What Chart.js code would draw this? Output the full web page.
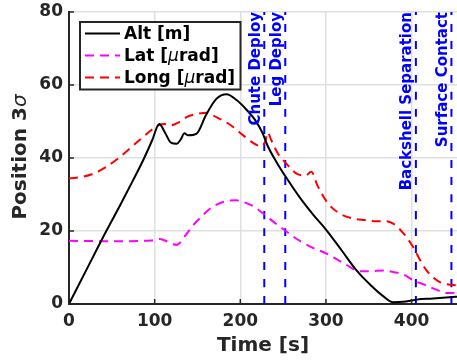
<!DOCTYPE html>
<html>
<head>
<meta charset="utf-8">
<script src="https://cdn.jsdelivr.net/npm/chart.js@4/dist/chart.umd.min.js"></script>
<style>
html,body{margin:0;padding:0;background:#fff;}
#wrap{width:457px;height:364px;}
</style>
</head>
<body>
<div id="wrap"><canvas id="c" width="457" height="364"></canvas></div>
<script>
const altPts = [[0,0],[20,9.2],[44,20.2],[60,27.2],[75,34.0],[87,39.6],[97,44.8],[105.4,49.3],[112,47],[119,44.2],[125.6,43.9],[131,45.3],[134.6,46.8],[139,46.2],[149,46.7],[160,51.8],[172,56.2],[184,57.5],[196,55.8],[207,53.3],[217,50.5],[226,46.8],[232,43.3],[242,39],[254,34.5],[270,29],[285,24.5],[300.7,20.2],[318,14.8],[335.7,9.2],[352,5.2],[366,2.3],[378.5,0.5],[390,0.6],[405.7,1.2],[425,1.5],[448,1.9],[453,2.0]];
const latPts = [[0,17.3],[50,17.2],[96.5,17.4],[106,17.8],[116,17.0],[125.6,16.2],[135,18.5],[145,21.6],[155,24],[164.5,26.1],[175,27.5],[186,28.3],[195,28.4],[203,28.0],[215,26.8],[226.7,24.8],[240,22.3],[252,20.2],[266,17.8],[283,15.6],[300.7,13.8],[320,11.3],[339.5,9.0],[352,9.0],[366.8,9.2],[380,8.7],[392,7.9],[401.8,6.5],[415,5.3],[428,4.0],[440.7,3.0],[453,3.0]];
const longPts = [[0,34.4],[15,34.8],[28.4,35.7],[45,37.8],[59.5,40.3],[73,43],[86.7,45.8],[97,47.8],[106,49.1],[112,49.3],[118,48.9],[127,49.6],[137.3,51.2],[148,52],[160.7,52.4],[172,51.2],[182,50],[191.7,48.5],[203.4,46.2],[211,44.8],[218,43.7],[224,43.2],[229,44.5],[232,47],[236,45],[244,41.2],[250,39.4],[258,37.4],[265.7,35.7],[276,35.2],[283,36.2],[290,32.5],[302.6,27.5],[316,24.8],[330,23.5],[345,23],[359,22.7],[370,22.7],[378.5,22.0],[390,19.5],[401.8,15.6],[410,12],[417.4,9.2],[425,7.3],[432.9,6.0],[442,5.4],[452,5.1]];
const eventTimes = [228, 252.5, 405, 446.5];
const eventLabels = ['Chute Deploy', 'Leg Deploy', 'Backshell Separation', 'Surface Contact'];
const xTicks = [0, 100, 200, 300, 400];
const yTicks = [0, 20, 40, 60, 80];
const seriesNames = ['Alt [m]', 'Lat [μrad]', 'Long [μrad]'];

const FONT = "'DejaVu Sans', sans-serif";
const AX = '#262626';
const toXY = a => a.map(p => ({x: p[0], y: p[1]}));

const datasets = [
  {label: seriesNames[0], data: toXY(altPts), borderColor: '#000000', borderWidth: 2},
  {label: seriesNames[1], data: toXY(latPts), borderColor: '#ff00ff', borderWidth: 2, borderDash: [9, 6]},
  {label: seriesNames[2], data: toXY(longPts), borderColor: '#ff0000', borderWidth: 2, borderDash: [9, 6]}
];
eventTimes.forEach((t, i) => {
  datasets.push({label: eventLabels[i], data: [{x: t, y: yTicks[0]}, {x: t, y: yTicks[yTicks.length - 1]}],
    borderColor: '#0000ff', borderWidth: 2, borderDash: [8, 9]});
});
datasets.forEach(d => { d.pointRadius = 0; d.fill = false; d.cubicInterpolationMode = 'monotone'; });

const deco = {
  id: 'deco',
  afterDatasetsDraw(chart) {
    const ctx = chart.ctx, ca = chart.chartArea;
    const xs = chart.scales.x, ys = chart.scales.y;
    ctx.save();
    // inner ticks
    ctx.strokeStyle = AX; ctx.lineWidth = 1.5;
    xTicks.forEach(v => { const px = xs.getPixelForValue(v); ctx.beginPath(); ctx.moveTo(px, ca.bottom); ctx.lineTo(px, ca.bottom - 5); ctx.stroke(); });
    yTicks.forEach(v => { const py = ys.getPixelForValue(v); ctx.beginPath(); ctx.moveTo(ca.left, py); ctx.lineTo(ca.left + 5, py); ctx.stroke(); });
    // event labels
    ctx.fillStyle = '#0000ff';
    ctx.font = "bold 15px " + FONT;
    ctx.textBaseline = 'middle'; ctx.textAlign = 'right';
    eventTimes.forEach((t, i) => {
      const px = xs.getPixelForValue(t) - 8.5;
      ctx.save(); ctx.translate(px, ca.top); ctx.rotate(-Math.PI / 2);
      ctx.fillText(eventLabels[i], 0, 0); ctx.restore();
    });
    // legend
    const L = 80, T = 22, W = 160.5, H = 67.5;
    ctx.fillStyle = '#ffffff'; ctx.fillRect(L, T, W, H);
    ctx.strokeStyle = AX; ctx.lineWidth = 2; ctx.setLineDash([]);
    ctx.strokeRect(L, T, W, H);
    const rows = [33.5, 55.5, 77.5];
    datasets.slice(0, 3).forEach((d, i) => {
      ctx.strokeStyle = d.borderColor; ctx.lineWidth = 2;
      ctx.setLineDash(d.borderDash || []);
      ctx.beginPath(); ctx.moveTo(85, rows[i]); ctx.lineTo(120, rows[i]); ctx.stroke();
      ctx.setLineDash([]);
      drawMixed(ctx, d.label, 124, rows[i] + 1, 17, '#000000', 'left');
    });
    // axis titles
    ctx.fillStyle = AX; ctx.textAlign = 'center'; ctx.textBaseline = 'middle';
    ctx.font = "bold 20px " + FONT;
    ctx.fillText('Time [s]', (ca.left + ca.right) / 2, 346);
    ctx.save(); ctx.translate(21, 157); ctx.rotate(-Math.PI / 2);
    drawMixed(ctx, 'Position 3σ', 0, 0, 20, AX, 'center');
    ctx.restore();
    ctx.restore();
  }
};
function drawMixed(ctx, text, x, y, size, color, align) {
  const parts = text.split(/([μσ])/).filter(s => s.length);
  const fonts = parts.map(p => (p === 'μ' || p === 'σ') ? "italic " + size + "px " + FONT : "bold " + size + "px " + FONT);
  let total = 0;
  const widths = parts.map((p, i) => { ctx.font = fonts[i]; const w = ctx.measureText(p).width; total += w; return w; });
  let cx = align === 'center' ? x - total / 2 : x;
  ctx.fillStyle = color; ctx.textAlign = 'left'; ctx.textBaseline = 'middle';
  parts.forEach((p, i) => { ctx.font = fonts[i]; ctx.fillText(p, cx, y); cx += widths[i]; });
}

new Chart(document.getElementById('c'), {
  type: 'line',
  data: {datasets},
  options: {
    responsive: false, animation: false, devicePixelRatio: 1,
    layout: {padding: {left: 0, right: 0, top: 12, bottom: 0}},
    plugins: {legend: {display: false}, tooltip: {enabled: false}},
    scales: {
      x: {
        type: 'linear', min: 0, max: 453,
        afterBuildTicks: s => { s.ticks = xTicks.map(v => ({value: v})); },
        afterFit: s => { s.height = 60; s.paddingLeft = 0; s.paddingRight = 0; },
        ticks: {font: {family: FONT, size: 17, weight: 'bold'}, color: AX, padding: 7, maxRotation: 0},
        grid: {color: '#e0e0e0', lineWidth: 1.5, drawTicks: false},
        border: {display: true, color: AX, width: 2}
      },
      y: {
        type: 'linear', min: 0, max: 80,
        afterBuildTicks: s => { s.ticks = yTicks.map(v => ({value: v})); },
        afterFit: s => { s.width = 69; s.paddingTop = 0; s.paddingBottom = 0; },
        ticks: {font: {family: FONT, size: 17, weight: 'bold'}, color: AX, padding: 6},
        grid: {color: '#e0e0e0', lineWidth: 1.5, drawTicks: false},
        border: {display: true, color: AX, width: 2}
      }
    }
  },
  plugins: [deco]
});
</script>
</body>
</html>
